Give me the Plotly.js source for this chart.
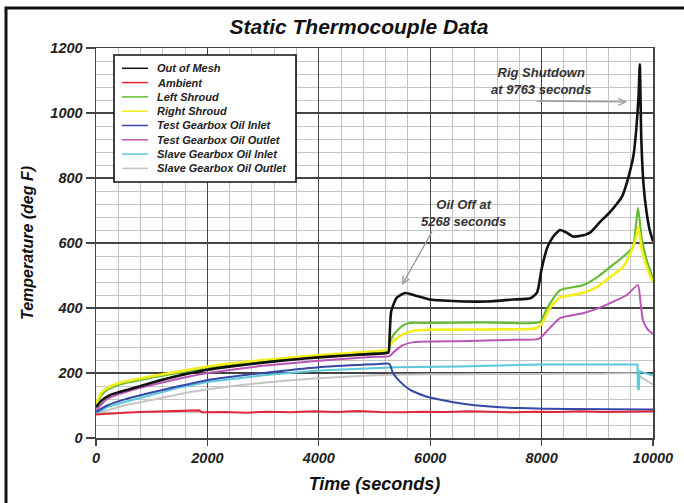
<!DOCTYPE html>
<html>
<head>
<meta charset="utf-8">
<script src="https://cdn.plot.ly/plotly-3.0.1.min.js"></script>
<style>
  html, body { margin: 0; padding: 0; background: #ffffff; }
  #chart { width: 684px; height: 503px; }
</style>
</head>
<body>
<div id="chart"></div>
<script>
// ---- Data (time in seconds, temperature in deg F) ----
const seriesNames = [
  "Out of Mesh", "Ambient", "Left Shroud", "Right Shroud",
  "Test Gearbox Oil Inlet", "Test Gearbox Oil Outlet",
  "Slave Gearbox Oil Inlet", "Slave Gearbox Oil Outlet"
];
const seriesColors = ["#111111", "#e0283a", "#66bb33", "#f2ee1a", "#3548a8", "#bb55b5", "#5cc8dc", "#c4c4c4"];
const seriesWidths = [2.6, 2, 2.2, 2.6, 2, 2, 2, 2];

const tMesh = [0, 100, 250, 600, 1000, 1500, 2000, 2500, 3000, 3500, 4000, 4500, 5000, 5250, 5268, 5300, 5400, 5550, 5700, 6000, 6500, 7000, 7500, 7800, 7920, 8000, 8100, 8200, 8330, 8450, 8560, 8700, 8870, 9050, 9200, 9350, 9450, 9530, 9600, 9650, 9700, 9740, 9763, 9790, 9830, 9880, 9940, 10000];
const outOfMesh = [95, 115, 132, 150, 170, 192, 210, 222, 232, 241, 248, 254, 259, 263, 300, 390, 432, 446, 440, 426, 421, 420, 426, 430, 448, 520, 585, 618, 640, 632, 620, 622, 632, 665, 690, 720, 745, 785, 830, 870, 950, 1050, 1150, 920, 780, 700, 640, 605];

const tAmbient = [0, 200, 500, 800, 1200, 1600, 1850, 1900, 2300, 2700, 3100, 3500, 3900, 4300, 4700, 5100, 5500, 5900, 6300, 6700, 7100, 7500, 7900, 8300, 8700, 9100, 9500, 9900, 10000];
const ambient = [72, 75, 78, 80, 82, 85, 85, 79, 80, 78, 81, 79, 82, 80, 83, 80, 79, 81, 80, 82, 80, 79, 81, 80, 82, 80, 81, 80, 82];

const tLeft = [0, 100, 200, 430, 1000, 1500, 2000, 3000, 4000, 5000, 5250, 5268, 5350, 5500, 5640, 6000, 7000, 7970, 8100, 8330, 8740, 9000, 9230, 9460, 9640, 9730, 9800, 9900, 10000];
const leftShroud = [100, 132, 148, 165, 186, 201, 215, 236, 251, 262, 266, 290, 320, 345, 354, 354, 356, 357, 400, 455, 470, 495, 526, 557, 588, 708, 610, 540, 492];

const tRight = [0, 100, 200, 430, 1000, 1500, 2000, 3000, 4000, 5000, 5250, 5268, 5350, 5500, 5700, 6000, 7000, 7900, 8000, 8150, 8330, 8740, 9000, 9230, 9460, 9600, 9700, 9735, 9800, 9900, 10000];
const rightShroud = [105, 140, 154, 170, 190, 205, 220, 240, 255, 267, 272, 280, 300, 318, 330, 333, 334, 338, 350, 400, 432, 446, 465, 495, 526, 570, 620, 650, 580, 520, 480];

const tTestIn = [0, 200, 500, 1000, 1500, 2000, 3000, 4000, 5000, 5268, 5330, 5450, 5640, 5940, 6530, 7130, 7610, 8500, 10000];
const testOilInlet = [80, 100, 118, 140, 160, 178, 200, 218, 227, 228, 200, 175, 148, 127, 107, 96, 92, 89, 88];

const tTestOut = [0, 200, 500, 1000, 1500, 2000, 3000, 4000, 5000, 5268, 5350, 5500, 5700, 6500, 7500, 7950, 8100, 8330, 8740, 9000, 9230, 9530, 9730, 9780, 9820, 9900, 10000];
const testOilOutlet = [85, 120, 140, 163, 183, 200, 222, 238, 250, 252, 265, 285, 295, 298, 302, 305, 330, 369, 384, 398, 415, 440, 471, 410, 363, 335, 320];

const tSlaveIn = [0, 200, 500, 1000, 1500, 2000, 3000, 4000, 5000, 5268, 5400, 6500, 8000, 9000, 9720, 9730, 9745, 9760, 10000];
const slaveOilInlet = [75, 95, 110, 133, 155, 172, 193, 208, 214, 215, 218, 220, 226, 226, 226, 150, 150, 205, 192];

const tSlaveOut = [0, 200, 500, 1000, 1500, 2000, 3000, 4000, 5000, 5268, 6000, 7000, 8000, 9000, 9730, 9760, 10000];
const slaveOilOutlet = [75, 85, 100, 117, 135, 150, 170, 184, 193, 195, 196, 197, 197, 198, 198, 190, 165];

const xTickVals = [0, 2000, 4000, 6000, 8000, 10000];
const yTickVals = [0, 200, 400, 600, 800, 1000, 1200];

const allT = [tMesh, tAmbient, tLeft, tRight, tTestIn, tTestOut, tSlaveIn, tSlaveOut];
const allY = [outOfMesh, ambient, leftShroud, rightShroud, testOilInlet, testOilOutlet, slaveOilInlet, slaveOilOutlet];
const useSpline = [true, false, true, true, true, true, false, true];

// draw order: back to front
const drawOrder = [7, 6, 4, 1, 5, 2, 3, 0];
const traces = drawOrder.map(i => ({
  x: allT[i], y: allY[i], name: seriesNames[i], type: "scatter", mode: "lines",
  line: { color: seriesColors[i], width: seriesWidths[i],
          shape: useSpline[i] ? "spline" : "linear", smoothing: 0.5 },
  showlegend: false, hoverinfo: "skip"
}));

const FONT = "Liberation Sans, Arial, sans-serif";
const PL = 96, PR = 653, PT = 48, PB = 438;
const px2x = p => (p - PL) / (PR - PL);
const py2y = p => (PB - p) / (PB - PT);

// outer frame + custom legend box
const shapes = [
  { type: "rect", xref: "paper", yref: "paper", x0: px2x(6), x1: 1.3, y0: -0.3, y1: py2y(8),
    line: { color: "#111", width: 3 }, fillcolor: "rgba(0,0,0,0)", layer: "above" },
  { type: "rect", xref: "paper", yref: "paper", x0: px2x(114), x1: px2x(296), y0: py2y(182), y1: py2y(55),
    line: { color: "#111", width: 1.6 }, fillcolor: "#ffffff", layer: "above" }
];
const annotations = [];
seriesNames.forEach((name, i) => {
  const py = 68.3 + i * 14.3;
  shapes.push({ type: "line", xref: "paper", yref: "paper", x0: px2x(122), x1: px2x(148), y0: py2y(py), y1: py2y(py),
    line: { color: seriesColors[i], width: 1.5 }, layer: "above" });
  annotations.push({ xref: "paper", yref: "paper", x: px2x(155), y: py2y(py), xanchor: "left", yanchor: "middle",
    text: name, showarrow: false, font: { family: FONT, size: 11, color: "#222", weight: "bold", style: "italic" } });
});

annotations.push(
  { x: 6589, y: 692, xref: "x", yref: "y", text: "Oil Off at<br>5268 seconds", showarrow: false,
    font: { family: FONT, size: 13, color: "#333", weight: "bold", style: "italic" } },
  { x: 7989, y: 1100, xref: "x", yref: "y", text: "Rig Shutdown<br>at 9763 seconds", showarrow: false,
    font: { family: FONT, size: 13, color: "#333", weight: "bold", style: "italic" } },
  { x: 5494, y: 471, xref: "x", yref: "y", ax: 6050, ay: 640, axref: "x", ayref: "y", text: "",
    showarrow: true, arrowhead: 5, arrowsize: 1, arrowwidth: 1.4, arrowcolor: "#9a9a9a" },
  { x: 9533, y: 1034, xref: "x", yref: "y", ax: 7882, ay: 1037, axref: "x", ayref: "y", text: "",
    showarrow: true, arrowhead: 5, arrowsize: 1, arrowwidth: 1.4, arrowcolor: "#9a9a9a" }
);

const axisCommon = {
  showgrid: true, gridcolor: "#444", gridwidth: 1.4,
  showline: true, linecolor: "#444", linewidth: 1.5, mirror: true,
  ticks: "outside", tickcolor: "#444", tickwidth: 1.4,
  zeroline: false, automargin: false,
  tickfont: { family: FONT, size: 14.5, color: "#222", weight: "bold", style: "italic" }
};

const layout = {
  width: 684, height: 503,
  margin: { l: PL, r: 684 - PR, t: PT, b: 503 - PB },
  paper_bgcolor: "#ffffff", plot_bgcolor: "#ffffff",
  showlegend: false,
  title: { text: "Static Thermocouple Data", x: 359 / 684, xanchor: "center", xref: "container",
    y: 1 - 27 / 503, yanchor: "middle", yref: "container",
    font: { family: FONT, size: 21, color: "#111", weight: "bold", style: "italic" } },
  xaxis: Object.assign({}, axisCommon, {
    range: [0, 10000], tickvals: xTickVals, ticktext: xTickVals.map(String), ticklen: 6,
    minor: { dtick: 400, showgrid: true, gridcolor: "#c4c4c4", gridwidth: 1 },
    title: { text: "Time (seconds)", standoff: 12,
      font: { family: FONT, size: 18, color: "#111", weight: "bold", style: "italic" } }
  }),
  yaxis: Object.assign({}, axisCommon, {
    range: [0, 1200], tickvals: yTickVals, ticktext: yTickVals.map(String), ticklen: 9,
    minor: { dtick: 40, showgrid: true, gridcolor: "#c4c4c4", gridwidth: 1 },
    title: { text: "Temperature (deg F)", standoff: 12,
      font: { family: FONT, size: 16, color: "#111", weight: "bold", style: "italic" } }
  }),
  shapes: shapes,
  annotations: annotations
};

Plotly.newPlot("chart", traces, layout, { displayModeBar: false, staticPlot: true });
</script>
</body>
</html>
